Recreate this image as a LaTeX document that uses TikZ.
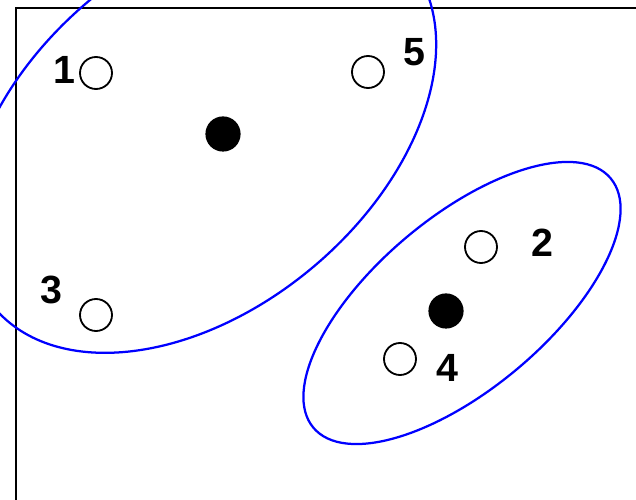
\documentclass[tikz,border=0pt]{standalone}
\usepackage{fontspec}
\setmainfont{Liberation Sans}
\begin{document}
\begin{tikzpicture}[
  scale=1,
  pnode/.style={circle, draw=black, fill=white, line width=1.3pt, inner sep=0pt, minimum size=8mm},
  cnode/.style={circle, fill=black, inner sep=0pt, minimum size=8.8mm},
  lbl/.style={font=\fontsize{28}{28}\bfseries\selectfont, inner sep=0pt},
  grupo/.style={line width=1.6pt, draw=blue}
]
  \useasboundingbox (0,0) rectangle (15.9,12.5);

  % Marco
  \draw[line width=1.8pt] (0.4,-0.5) -- (0.4,12.3) -- (16.4,12.3);

  % Grupos (elipses)
  \draw[grupo] (5.025,9.15) ellipse [x radius=6.75cm, y radius=4.35cm, rotate=40];
  \draw[grupo] (11.55,4.925) ellipse [x radius=4.85cm, y radius=2.15cm, rotate=40];

  % Centros
  \node[cnode] (c1) at (5.575,9.15) {};
  \node[cnode] (c2) at (11.15,4.725) {};

  % Puntos
  \node[pnode] (p1) at (2.4,10.675) {};
  \node[pnode] (p2) at (12.025,6.325) {};
  \node[pnode] (p3) at (2.4,4.625) {};
  \node[pnode] (p4) at (10.0,3.525) {};
  \node[pnode] (p5) at (9.2,10.7) {};

  % Etiquetas
  \node[lbl] (l1) at (1.6,10.75) {1};
  \node[lbl] (l2) at (13.55,6.425) {2};
  \node[lbl] (l3) at (1.275,5.25) {3};
  \node[lbl] (l4) at (11.175,3.3) {4};
  \node[lbl] (l5) at (10.35,11.2) {5};
\end{tikzpicture}
\end{document}
